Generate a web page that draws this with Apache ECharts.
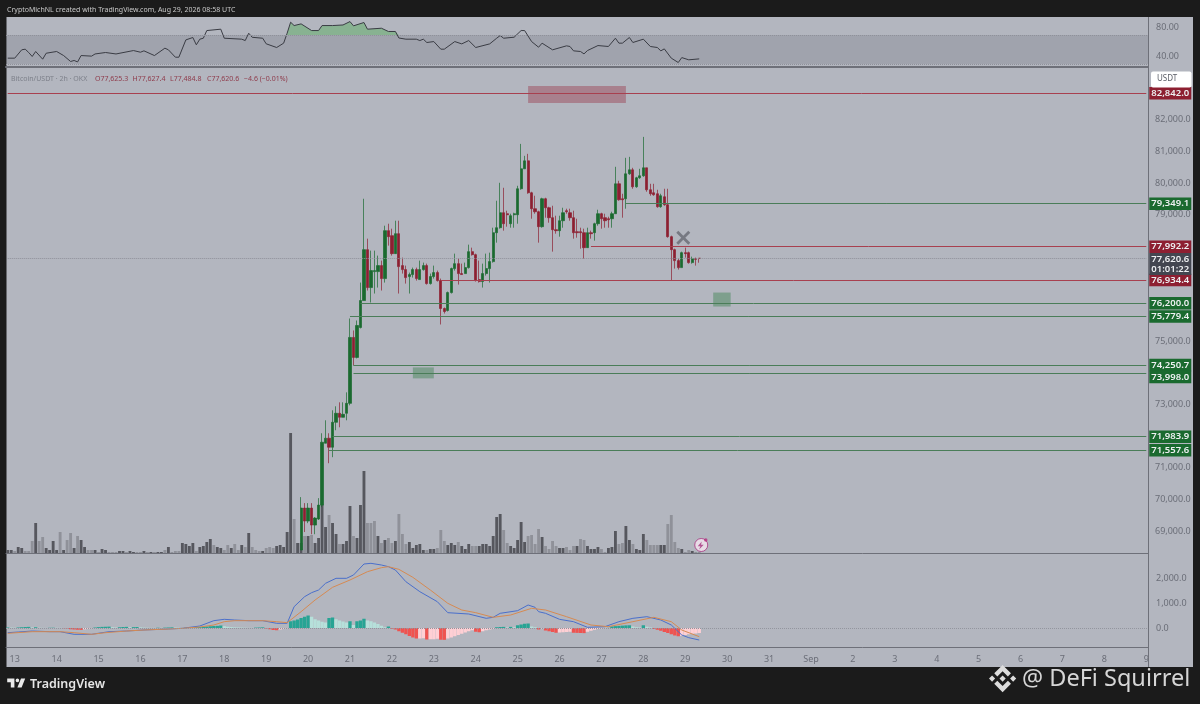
<!DOCTYPE html>
<html><head><meta charset="utf-8">
<style>html,body{margin:0;padding:0;background:#1b1b1b}#c{width:1200px;height:704px}</style>
<script src="https://cdn.jsdelivr.net/npm/echarts@6/dist/echarts.min.js"></script>
</head><body><div id="c"></div>
<script>
const barCount = 327;
const firstDayBar = 2;
const dayLabels = ['13','14','15','16','17','18','19','20','21','22','23','24','25','26','27','28','29','30','31','Sep','2','3','4','5','6','7','8','9'];

const priceTicks = [82000,81000,80000,79000,75000,73000,71000,70000,69000];
const rsiTicks = [80,40];
const macdTicks = [2000,1000,0];

const candleFirstBar = 84;
const candles = [
[68401,69726,68400,70073],[69726,69316,68968,69883],[69316,69726,69250,69883],[69726,69189,68900,69883],[69189,69410,68900,69440],
[69379,69820,69350,70040],[69820,71808,69757,72092],[71776,71934,71776,72502],[71934,71650,71145,72092],[71650,72439,71335,72818],
[72439,72723,72187,72944],[72723,72597,72280,73070],[72597,72691,72597,73070],[72723,73038,72502,73385],[73038,75121,72975,75720],
[75121,74490,74237,75342],[74490,75499,74458,75657],[75436,76288,75405,76856],[76288,77897,76288,79506],[77897,76698,76604,78244],
[76698,77234,76225,77866],[77203,77234,76509,77866],[77203,77392,76698,77708],[77392,76982,76604,77550],[76982,78497,76856,78654],
[78497,78307,78024,78717],[78339,77771,77708,78560],[77771,78402,77771,78812],[78402,77361,76509,78812],[77392,77266,77140,77645],
[77266,77014,76824,77392],[77045,77108,76509,77171],[77108,77266,77014,77329],[77266,76982,76919,77329],[76951,77266,76951,77550],
[77266,77392,77234,77487],[77392,76824,76793,77455],[76824,77045,76793,77140],[77045,77171,76982,77392],[77171,76919,76888,77234],
[76919,76036,75531,76982],[76036,75941,75878,76067],[75973,76540,75941,76572],[76540,77298,76509,77329],[77298,77455,77234,77771],
[77455,77140,76793,77613],[77140,77110,77108,77455],[77140,77329,77140,77487],[77329,77834,77298,78055],[77834,77739,77708,77960],
[77739,76919,76888,77771],[76951,76888,76856,77550],[76888,77140,76698,77455],[77140,77298,77077,77771],[77298,77519,76856,77802],
[77519,78433,77487,78591],[78433,78591,78118,79443],[78591,79064,78560,80011],[79064,78717,78497,79853],[79033,79001,78623,79128],
[78717,78970,78591,79033],[79001,79033,78591,79064],[79001,79822,78717,79916],[79822,80453,79790,81241],[80453,80705,80453,80863],
[80705,79695,79664,80926],[79695,79191,78875,79727],[79191,79096,79033,79601],[79096,78623,78118,79128],[78623,79506,78591,79538],
[79506,79222,78907,79538],[79222,78907,78749,79254],[78907,78528,77834,79285],[78528,78497,78402,78970],[78497,78812,78307,78970],
[78812,79064,78591,79222],[79128,79096,79033,79191],[79064,78907,78812,79191],[78907,78433,78244,79128],[78465,78433,78275,78875],
[78465,78433,77928,78591],[78433,77960,77613,78560],[77960,78433,77960,78591],[78433,78402,78244,78497],[78433,78717,78181,78749],
[78717,79033,78654,79159],[79033,78875,78560,79064],[78907,78812,78591,79033],[78875,78843,78591,78938],[78875,79033,78591,79096],
[79033,79979,79033,80516],[79979,79475,79443,80074],[79506,79475,78907,79664],[79506,80295,79191,80800],[80295,80421,80263,80831],
[80421,79885,79822,80484],[79885,80169,79853,80200],[80169,80232,80137,80453],[80232,80484,80200,81462],[80484,79790,79727,80484],
[79790,79664,79601,79979],[79695,79632,79601,79979],[79664,79254,79222,79790],[79254,79601,79222,79664],[79569,79317,79285,79822],
[79317,78307,78275,79822],[78307,77897,76919,78339],[77897,77550,77298,77928],[77550,77329,77266,77613],[77329,77802,77329,77834],
[77802,77771,77645,77960],[77802,77487,77455,77834],[77487,77613,77455,77676],[77613,77590,77392,77645],[77625,77620,77484,77627]
];

const volumeValues = [
30,30,20,60,50,20,20,120,300,120,
160,50,30,120,30,210,30,130,200,50,
170,130,60,30,30,30,10,40,30,10,
10,10,20,20,10,20,10,10,10,20,
10,10,10,10,10,30,60,10,20,20,
100,90,70,100,20,60,70,110,140,80,
60,50,30,80,50,90,30,80,60,200,
60,30,20,20,50,60,50,70,80,60,
210,1200,340,100,100,170,170,180,100,150,
480,260,380,300,190,90,90,120,470,170,
150,480,820,300,300,320,170,100,130,150,
100,120,390,190,90,110,50,80,90,30,
30,40,40,50,230,120,80,100,80,110,
70,40,90,70,70,70,90,90,70,170,
360,390,230,100,70,50,130,310,110,170,
180,90,240,160,70,40,120,70,50,50,
60,30,70,70,140,130,70,40,40,60,
40,10,50,60,220,90,100,270,130,90,
40,30,190,130,80,80,80,80,80,290,
380,110,50,40,10,30,20,10,10];
const volumeDark = [
1,1,0,1,1,0,0,0,1,0,
0,1,1,1,1,0,1,0,0,1,
0,1,1,0,0,1,0,1,1,0,
0,0,1,1,0,1,1,0,0,1,
0,1,0,1,1,0,1,0,0,0,
1,1,1,1,0,1,1,1,1,0,
1,1,0,0,1,0,0,1,0,1,
0,0,0,1,0,0,0,1,1,1,
1,1,0,1,1,0,1,0,1,1,
1,1,0,1,1,0,1,1,1,0,
1,1,1,0,0,0,1,0,1,0,
0,1,0,0,0,1,1,1,1,1,
0,1,1,0,0,0,1,1,1,0,
1,1,1,0,0,1,1,1,1,1,
1,1,0,0,1,1,1,1,1,0,
0,0,0,1,0,0,0,0,1,1,
0,0,0,1,0,0,1,1,1,1,
0,0,1,1,1,0,0,1,1,0,
1,1,1,0,0,0,0,1,1,0,
0,0,0,1,0,0,1,0,0];

const rsiBars = [0,2,4,5,6,7,8,10,11,14,16,18,19,20,21,24,25,28,31,36,38,39,42,45,46,48,49,51,53,54,55,56,57,61,62,67,68,69,70,73,74,77,79,80,81,82,84,87,89,90,93,96,98,99,102,103,107,109,111,112,114,117,118,119,120,122,124,125,128,130,132,134,138,140,141,142,145,147,148,150,152,153,156,160,161,162,164,165,166,169,172,174,175,176,178,179,182,184,186,187,188,190,192,193,195,198];
const rsiValues = [38.2,38.2,49.7,50.6,46,40.5,47.4,36.8,45,47.4,41.8,33.6,35,33,41.8,41,44,46,44,48.7,46.4,48.3,41.8,52,49.7,39.5,39.5,63.4,66.7,56.6,64.4,65.7,76.3,78.2,65.7,64.4,62.5,72.6,67,65.7,58,52.9,58.9,72.6,87.8,83.2,85.5,76.3,76.3,83.2,83.2,84,88.7,82.8,87.4,78.2,79.5,75,75,66,64.4,64.4,62.5,64.4,59.8,61.1,50.6,50.6,61.1,57.9,62.5,52.9,57.9,65.7,69.4,65.7,67.1,76.3,76.3,61.1,53.3,58.9,49.7,55.2,54.3,48.3,47.4,44.1,48.7,55.6,54.3,65.7,58.9,58.9,66.7,59.8,64.4,54.3,52.9,48.3,51,38.2,32.2,39,35.9,37.2];

const macdBars = [0,3,7,12,15,19,24,29,34,39,46,50,55,59,62,65,69,73,77,80,82,85,87,89,91,94,97,99,102,104,107,109,111,114,118,123,126,132,137,139,141,146,149,151,152,154,158,162,166,171,175,179,183,187,190,193,195,198];
const macdValues = [-187,-160,-120,-147,-147,-253,-253,-147,-120,-80,-40,-13,80,293,347,320,293,293,187,187,853,1253,1413,1520,1787,1987,1987,2120,2560,2587,2520,2453,2320,1853,1453,1053,613,560,387,427,587,693,920,827,653,587,347,253,27,53,253,387,453,320,120,-280,-387,-480];
const signalBars = [0,7,15,19,24,28,34,39,46,50,55,59,62,65,69,73,77,80,84,88,93,98,103,107,109,112,116,121,126,130,134,139,144,150,154,160,167,172,179,185,190,193,198];
const signalValues = [-213,-147,-147,-187,-253,-187,-120,-80,-40,-13,40,120,253,293,293,293,253,213,653,1120,1627,1920,2253,2413,2453,2347,2027,1520,987,720,613,427,520,787,720,453,120,53,253,427,253,-80,-347];
const histogram = [
20,15,10,20,30,40,45,20,30,10,
5,3,8,10,8,5,-10,-15,-50,-60,
-70,-75,-50,-30,-10,20,35,45,50,55,
30,20,30,40,45,30,35,40,25,15,
10,5,5,10,5,15,20,25,15,10,
5,10,15,25,35,40,55,60,70,80,
85,100,70,50,35,25,20,15,10,5,
5,15,20,25,-20,-50,-80,-90,-60,-30,
-10,270,300,340,400,450,500,450,350,300,
250,220,400,420,350,300,260,220,270,120,
270,300,370,300,270,220,160,90,30,60,
-30,-60,-130,-190,-250,-320,-380,-420,-420,-410,
-460,-450,-450,-430,-470,-475,-420,-380,-330,-280,
-230,-180,-130,-90,-150,-170,-130,-90,-60,-30,
30,40,45,20,45,30,110,140,170,180,
60,30,-60,-20,-100,-130,-160,-190,-180,-170,
-160,-150,-190,-195,-200,-205,-150,-110,-70,-40,
-20,-10,5,65,75,85,95,105,110,60,
30,20,110,50,20,-40,-70,-110,-160,-200,
-250,-300,-330,-320,-280,-250,-230,-220,-200];

const levelValues = [82842.0,79349.1,77992.2,76934.4,76200.0,75779.4,74250.7,73998.0,71983.9,71557.6];
const levelStartBars = [0,177,167,124,101,98,99,99,93,92];
const levelKinds = ['red','green','red','red','green','green','green','green','green','green'];
const lastPrice = 77620.6;
const lastTimer = '01:01:22';
const boxes = [
 {from:149,to:177,high:83071,low:82535,kind:'red'},
 {from:202,to:207,high:76540,low:76099,kind:'green'},
 {from:116,to:122,high:74174,low:73827,kind:'green'}
];
const crossBar = 193, crossPrice = 78275;
const pinBar = 198, pinVolume = 80;

const C = {bg:'#1b1b1b',panel:'#b3b6bf',axis:'#6e7079',tick:'#6b6e78',red:'#8d1f31',green:'#1a6a2f',redLine:'#a8404f',greenLine:'#4a7d58',
  dark:'#56575e',light:'#8f9199',blue:'#4a6fcb',orange:'#d68a52'};
const FONT='"Noto Sans",sans-serif';
const fmt = v => v.toLocaleString('en-US',{minimumFractionDigits:1,maximumFractionDigits:1});

const categories = Array.from({length:barCount},(_, i)=>{
  const k=(i-firstDayBar)/12; return Number.isInteger(k)&&dayLabels[k]?dayLabels[k]:'';
});
const pad = (arr,start) => Array.from({length:barCount},(_,i)=>{
  const v=arr[i-start]; return v===undefined?'-':v;
});
const zip=(a,b)=>a.map((x,i)=>[x,b[i]]);

const tag=(bg,text,extra)=>Object.assign({show:true,position:'end',distance:3,offset:[21,0],formatter:text,color:'#eef0f2',fontFamily:FONT,fontSize:9.5,fontWeight:600,
  backgroundColor:bg,width:42,height:12.5,lineHeight:12.5,align:'center',verticalAlign:'middle',padding:0},extra||{});

const levelLines = levelValues.map((v,i)=>{
  const red=levelKinds[i]==='red';
  const extra = v===73998.0 ? {offset:[21,4]} : {};
  return [{xAxis:levelStartBars[i],yAxis:v,lineStyle:{color:red?C.redLine:C.greenLine,width:1,type:'solid'},label:tag(red?C.red:C.green,fmt(v),extra)},
          {xAxis:barCount-1,yAxis:v}];
});
levelLines.push([{xAxis:0,yAxis:lastPrice,lineStyle:{color:'#8e9099',width:1,type:'dotted'},
    label:tag('#434650',fmt(lastPrice)+'\n'+lastTimer,{height:22,lineHeight:10,offset:[21,5.5]})},{xAxis:barCount-1,yAxis:lastPrice}]);

const hist = histogram.map((v,i)=>{
  const p=i?histogram[i-1]:0;
  const color=v>=0?(v>p?'#27a494':'#b6e0da'):(v<p?'#ef5350':'#ffcfd4');
  return {value:v,itemStyle:{color}};
});

const hiddenX=(g)=>({type:'category',gridIndex:g,data:categories,axisLabel:{show:false},axisTick:{show:false},axisPointer:{show:false},
   axisLine:{show:true,onZero:false,lineStyle:{color:C.axis,width:g===0?2:1}}});

echarts.graphic.registerShape('tvLogo',echarts.graphic.extendPath('M14 6H2v6h6v9h6V6Zm12 15h-7l6-15h7l-6 15Zm-7-9a3 3 0 1 0 0-6 3 3 0 0 0 0 6Z',{}));
echarts.graphic.registerShape('bnbLogo',echarts.graphic.extendPath('M38.73 53.2L63.3 28.64 87.89 53.22l14.3-14.3L63.3 0 24.43 38.9l14.3 14.3zM0 63.3l14.3-14.3 14.3 14.3-14.3 14.3zM38.73 73.41l24.57 24.57 24.59-24.59 14.3 14.29-38.89 38.92-38.9-38.88 14.33-14.31zM98 63.31l14.3-14.3 14.31 14.3-14.3 14.3zM77.83 63.3L63.3 48.76 52.56 59.5l-1.24 1.23-2.54 2.54 14.52 14.51 14.53-14.53z',{}));

const option={
 animation:false,backgroundColor:C.bg,
 grid:[{left:6,right:52,top:17,height:50},{left:6,right:52,top:68,height:485},{left:6,right:52,top:554,height:93}],
 xAxis:[hiddenX(0),hiddenX(1),
  {type:'category',gridIndex:2,data:categories,axisTick:{show:false},axisLine:{show:true,onZero:false,lineStyle:{color:C.axis}},
   axisLabel:{show:true,interval:0,color:C.tick,fontFamily:FONT,fontSize:9,margin:8,hideOverlap:false}}],
 yAxis:[
  {type:'value',gridIndex:0,position:'right',min:26,max:95,splitLine:{show:false},axisTick:{show:false},axisLine:{show:false},
   axisLabel:{customValues:rsiTicks,color:C.tick,fontFamily:FONT,fontSize:9,margin:8,formatter:v=>v.toFixed(2)}},
  {type:'value',gridIndex:1,position:'right',min:68306,max:83640,splitLine:{show:false},axisTick:{show:false},axisLine:{show:false},
   axisLabel:{customValues:priceTicks,color:C.tick,fontFamily:FONT,fontSize:9,margin:7,formatter:fmt}},
  {type:'value',gridIndex:1,position:'left',min:0,max:4850,show:false,splitLine:{show:false}},
  {type:'value',gridIndex:2,position:'right',min:-760,max:2960,splitLine:{show:false},axisTick:{show:false},axisLine:{show:false},
   axisLabel:{customValues:macdTicks,color:C.tick,fontFamily:FONT,fontSize:9,margin:8,formatter:fmt}}
 ],
 series:[
  {name:'RSI overbought',type:'line',xAxisIndex:0,yAxisIndex:0,showSymbol:false,lineStyle:{width:0},silent:true,
   areaStyle:{origin:70,color:'rgba(76,175,80,0.42)',opacity:1},z:1,
   data:zip(rsiBars,rsiValues).filter(p=>p[0]>=80&&p[0]<=112).map(p=>[p[0],Math.max(p[1],70)])},
  {name:'RSI',type:'line',xAxisIndex:0,yAxisIndex:0,showSymbol:false,z:3,lineStyle:{color:'#3a3c44',width:1},
   data:zip(rsiBars,rsiValues),
   markArea:{silent:true,itemStyle:{color:'rgba(105,107,118,0.25)'},data:[[{yAxis:70},{yAxis:30}]]},
   markLine:{silent:true,symbol:'none',animation:false,label:{show:false},lineStyle:{color:'#8f919a',type:'dotted',width:1},
     data:[{yAxis:70},{yAxis:30}]}},
  {name:'Volume',type:'bar',xAxisIndex:1,yAxisIndex:2,barCategoryGap:'18%',z:1,
   data:volumeValues.map((v,i)=>({value:v,itemStyle:{color:volumeDark[i]?C.dark:C.light}}))},
  {name:'BTCUSDT',type:'candlestick',xAxisIndex:1,yAxisIndex:1,barWidth:2.7,z:3,
   itemStyle:{color:C.green,color0:C.red,borderColor:C.green,borderColor0:C.red,borderWidth:0.7},
   data:pad(candles,candleFirstBar).map(c=>c==='-'?['-','-','-','-']:c),
   markLine:{silent:true,symbol:'none',animation:false,z:5,data:levelLines},
   markArea:{silent:true,data:boxes.map(b=>[{xAxis:b.from,yAxis:b.high,itemStyle:{color:b.kind==='red'?'rgba(150,40,60,0.38)':'rgba(40,120,60,0.38)'}},{xAxis:b.to,yAxis:b.low}])}},
  {name:'Cross',type:'scatter',xAxisIndex:1,yAxisIndex:1,z:6,symbol:'path://M2 0L7 5 12 0 14 2 9 7 14 12 12 14 7 9 2 14 0 12 5 7 0 2Z',symbolSize:14,symbolOffset:[1.5,0],
   itemStyle:{color:'#686a73'},data:[[crossBar,crossPrice]]},
  {name:'Pin',type:'scatter',xAxisIndex:1,yAxisIndex:2,z:6,symbol:'circle',symbolSize:13,symbolOffset:[2,0],
   itemStyle:{color:'#f4e6f0',borderColor:'#a8327f',borderWidth:1},data:[[pinBar,pinVolume]]},
  {name:'Pin bolt',type:'scatter',xAxisIndex:1,yAxisIndex:2,z:7,symbol:'path://M6 0L0 7H4L2 12L9 5H5Z',symbolSize:[6,8],symbolOffset:[1.5,0.5],
   itemStyle:{color:'#a8327f'},data:[[pinBar,pinVolume]]},
  {name:'Pin dot',type:'scatter',xAxisIndex:1,yAxisIndex:2,z:7,symbol:'circle',symbolSize:3.5,symbolOffset:[6.5,-5],
   itemStyle:{color:'#b5307f'},data:[[pinBar,pinVolume]]},
  {name:'MACD hist',type:'bar',xAxisIndex:2,yAxisIndex:3,barCategoryGap:'4%',z:1,data:hist,
   markLine:{silent:true,symbol:'none',animation:false,label:{show:false},lineStyle:{color:'#93959e',type:'dotted',width:1},data:[{yAxis:0}]}},
  {name:'MACD',type:'line',xAxisIndex:2,yAxisIndex:3,showSymbol:false,z:3,lineStyle:{color:C.blue,width:1},data:zip(macdBars,macdValues)},
  {name:'Signal',type:'line',xAxisIndex:2,yAxisIndex:3,showSymbol:false,z:3,lineStyle:{color:C.orange,width:1},data:zip(signalBars,signalValues)}
 ],
 graphic:[
  {type:'rect',z:-10,silent:true,shape:{x:6.5,y:17,width:1186.5,height:650},style:{fill:C.panel}},
  {type:'line',z:50,silent:true,shape:{x1:1148.5,y1:17,x2:1148.5,y2:667},style:{stroke:C.axis,lineWidth:1}},
  {type:'text',z:50,x:7,y:6,style:{text:'CryptoMichNL created with TradingView.com, Aug 29, 2026 08:58 UTC',fill:'#c9c9c9',font:'7px '+FONT}},
  {type:'text',z:50,x:11,y:75,style:{text:'Bitcoin/USDT · 2h · OKX',fill:'#7d808a',font:'7px '+FONT}},
  {type:'text',z:50,x:95,y:75,style:{text:'O77,625.3',fill:'#8f3b4b',font:'7px '+FONT}},
  {type:'text',z:50,x:132.5,y:75,style:{text:'H77,627.4',fill:'#8f3b4b',font:'7px '+FONT}},
  {type:'text',z:50,x:170,y:75,style:{text:'L77,484.8',fill:'#8f3b4b',font:'7px '+FONT}},
  {type:'text',z:50,x:207,y:75,style:{text:'C77,620.6',fill:'#8f3b4b',font:'7px '+FONT}},
  {type:'text',z:50,x:244,y:75,style:{text:'−4.6 (−0.01%)',fill:'#8f3b4b',font:'7px '+FONT}},
  {type:'rect',z:60,silent:true,shape:{x:1151,y:71.5,width:40.5,height:16,r:2},style:{fill:'#ffffff'}},
  {type:'text',z:61,x:1157,y:75,style:{text:'USDT',fill:'#5a5d66',font:'8px '+FONT}},
  {type:'tvLogo',z:50,silent:true,x:6,y:675,scaleX:0.6,scaleY:0.6,style:{fill:'#e9e9e9'}},
  {type:'text',z:50,x:30,y:677.5,style:{text:'TradingView',fill:'#e6e6e6',font:'600 12.5px '+FONT}},
  {type:'bnbLogo',z:50,silent:true,x:989,y:665,scaleX:0.215,scaleY:0.215,style:{fill:'#dcdcdc'}},
  {type:'text',z:50,x:1022,y:667,style:{text:'@ DeFi Squirrel',fill:'#d6d6d6',font:'23.5px '+FONT}}
 ]
};
const chart=echarts.init(document.getElementById('c'),null,{width:1200,height:704});
chart.setOption(option);
</script></body></html>
